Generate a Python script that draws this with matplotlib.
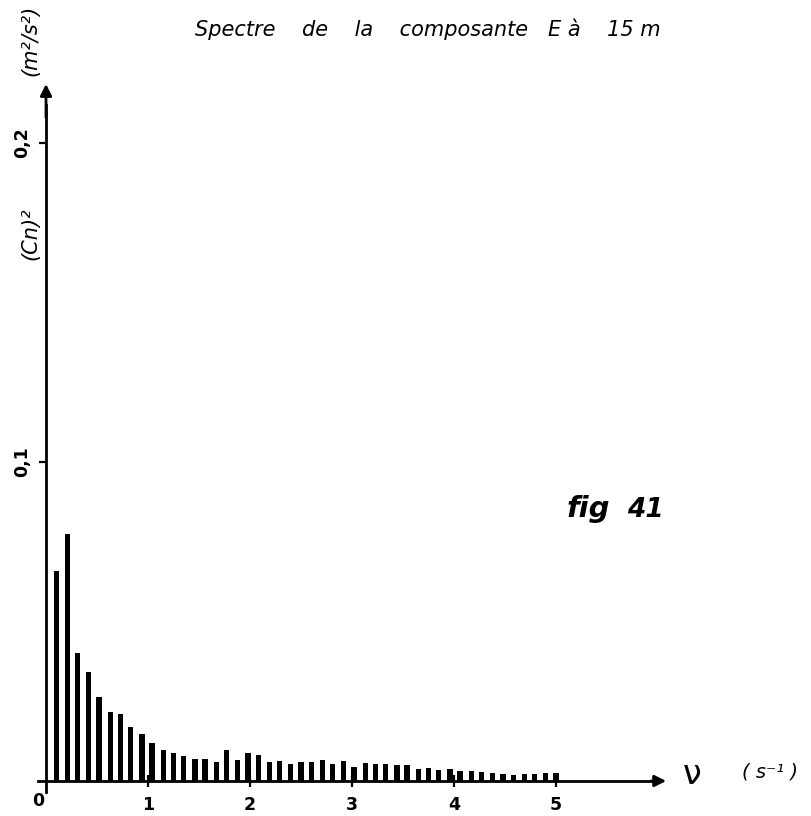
import matplotlib
matplotlib.use("Agg")
import matplotlib.pyplot as plt

# ---- data ----
freqs = [0.10, 0.21, 0.31, 0.42, 0.52, 0.63, 0.73, 0.83, 0.94, 1.04,
         1.15, 1.25, 1.35, 1.46, 1.56, 1.67, 1.77, 1.88, 1.98, 2.08,
         2.19, 2.29, 2.40, 2.50, 2.60, 2.71, 2.81, 2.92, 3.02, 3.13,
         3.23, 3.33, 3.44, 3.54, 3.65, 3.75, 3.85, 3.96, 4.06, 4.17,
         4.27, 4.38, 4.48, 4.58, 4.69, 4.79, 4.90, 5.00]
power = [0.0658, 0.0773, 0.0400, 0.0342, 0.0264, 0.0217, 0.0210, 0.0170, 0.0147, 0.0120,
         0.0096, 0.0088, 0.0077, 0.0070, 0.0070, 0.0060, 0.0096, 0.0065, 0.0088, 0.0081,
         0.0060, 0.0063, 0.0054, 0.0060, 0.0060, 0.0067, 0.0052, 0.0062, 0.0045, 0.0057,
         0.0052, 0.0052, 0.0049, 0.0049, 0.0039, 0.0042, 0.0034, 0.0039, 0.0031, 0.0031,
         0.0028, 0.0026, 0.0021, 0.0018, 0.0021, 0.0021, 0.0024, 0.0026]
xticks = [1, 2, 3, 4, 5]
xticklabels = ["1", "2", "3", "4", "5"]
yticks = [0.1, 0.2]
yticklabels = ["0,1", "0,2"]

W, H = 812, 816
fig = plt.figure(figsize=(W / 100, H / 100), dpi=100)
ax = fig.add_axes([0, 0, 1, 1])

# pixel geometry of the plotting frame
X0, PXX = 46.0, 102.0     # px of x=0, px per unit
Y0, PXY = 781.0, 3190.0   # px (from top) of y=0, px per unit
ax.set_xlim(-X0 / PXX, (W - X0) / PXX)
ax.set_ylim(-(H - Y0) / PXY, Y0 / PXY)
ax.patch.set_visible(False)


def fpx(x, y):
    return (x / W, 1 - y / H)


ax.bar(freqs, power, width=0.052, color="black", zorder=3)

for s in ("top", "right"):
    ax.spines[s].set_visible(False)
ax.spines["left"].set_position(("data", 0))
ax.spines["bottom"].set_position(("data", 0))
ax.spines["left"].set_bounds(-0.0035, 0.212)
ax.spines["bottom"].set_bounds(-0.08, 5.98)
for s in ("left", "bottom"):
    ax.spines[s].set_linewidth(2.0)

ax.annotate("", xy=(6.08, 0), xytext=(5.93, 0),
            arrowprops=dict(arrowstyle="-|>", color="black", lw=2.0,
                            mutation_scale=17, shrinkA=0, shrinkB=0))
ax.annotate("", xy=(0, 0.2185), xytext=(0, 0.208),
            arrowprops=dict(arrowstyle="-|>", color="black", lw=2.0,
                            mutation_scale=17, shrinkA=0, shrinkB=0))

ax.set_xticks(xticks)
ax.set_xticklabels(xticklabels, fontsize=12.5, fontweight="bold")
ax.set_yticks(yticks)
ax.set_yticklabels(yticklabels, fontsize=12.5, fontweight="bold",
                   rotation=90, va="center")
ax.tick_params(axis="x", direction="inout", length=9, width=1.6, pad=6)
ax.tick_params(axis="y", direction="out", length=5, width=1.6, pad=6)

fig.text(*fpx(38, 801), "0", fontsize=12.5, fontweight="bold",
         ha="center", va="center")

fig.text(*fpx(428, 29), "Spectre    de    la    composante   E à    15 m",
         fontsize=15, style="italic", ha="center", va="center")
fig.text(*fpx(30, 40), "(m²/s²)", fontsize=15, style="italic",
         rotation=90, ha="center", va="center")
fig.text(*fpx(30, 234), "(Cn)²", fontsize=15, style="italic",
         rotation=90, ha="center", va="center")
fig.text(*fpx(588, 517), "fig", fontsize=21, style="italic",
         fontweight="bold", ha="center", va="baseline")
fig.text(*fpx(645, 517), "41", fontsize=19, style="italic",
         fontweight="bold", ha="center", va="baseline")
fig.text(*fpx(692, 774), "ν", fontsize=24, ha="center", va="center")
fig.text(*fpx(770, 772), "( s⁻¹ )", fontsize=14, style="italic",
         ha="center", va="center")

fig.savefig("out.png", dpi=100)
